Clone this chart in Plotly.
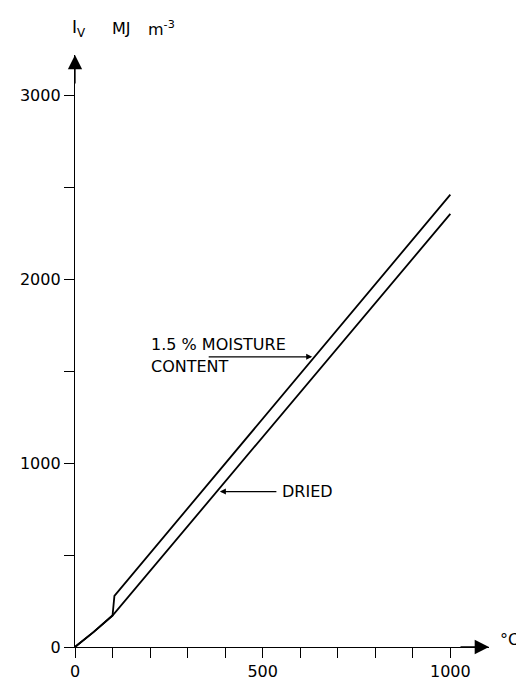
import plotly.graph_objects as go

# Data
temp_moist = [0, 50, 100, 105, 1000]
iv_moist = [0, 82, 171, 278, 2460]
temp_dried = [0, 50, 100, 1000]
iv_dried = [0, 82, 171, 2355]

x_tickvals = [0, 100, 200, 300, 400, 500, 600, 700, 800, 900, 1000]
x_ticktext = ["0", "", "", "", "", "500", "", "", "", "", "1000"]
y_tickvals = [0, 500, 1000, 1500, 2000, 2500, 3000]
y_ticktext = ["0", "", "1000", "", "2000", "", "3000"]

X_MAX = 1103
Y_MAX = 3219
FONT = "DejaVu Sans"

fig = go.Figure()
fig.add_trace(go.Scatter(x=temp_moist, y=iv_moist, mode="lines",
                         line=dict(color="black", width=1.8), showlegend=False))
fig.add_trace(go.Scatter(x=temp_dried, y=iv_dried, mode="lines",
                         line=dict(color="black", width=1.8), showlegend=False))

# the page body has an 8px default margin, so the figure is 8px smaller
fig.update_layout(
    width=516, height=685,
    margin=dict(l=64, r=35, t=47, b=36),
    paper_bgcolor="white", plot_bgcolor="white",
    font=dict(family=FONT, size=16, color="black"),
    xaxis=dict(range=[0, X_MAX], showgrid=False, zeroline=False,
               showline=True, linecolor="black", linewidth=1.3,
               ticks="outside", ticklen=10, tickwidth=1.3, tickcolor="black",
               tickvals=x_tickvals, ticktext=x_ticktext,
               tickfont=dict(family=FONT, size=16)),
    yaxis=dict(range=[0, Y_MAX], showgrid=False, zeroline=False,
               showline=True, linecolor="black", linewidth=1.3,
               ticks="outside", ticklen=10, tickwidth=1.3, tickcolor="black",
               tickvals=y_tickvals, ticktext=y_ticktext,
               tickfont=dict(family=FONT, size=16)),
)

# Axis arrowheads
fig.add_annotation(x=X_MAX, y=0, xref="x", yref="y", ax=-30, ay=0,
                   text="", showarrow=True, arrowhead=2, arrowsize=2.2,
                   arrowwidth=1.3, arrowcolor="black")
fig.add_annotation(x=0, y=Y_MAX, xref="x", yref="y", ax=0, ay=30,
                   text="", showarrow=True, arrowhead=2, arrowsize=2.2,
                   arrowwidth=1.3, arrowcolor="black")

# Axis labels (paper coordinates so they stay visible outside the plot area)
fig.add_annotation(x=1.077, y=0.012, xref="paper", yref="paper", text="°C",
                   showarrow=False, xanchor="right", yanchor="middle",
                   font=dict(family=FONT, size=16))
fig.add_annotation(x=-0.012, y=1.045, xref="paper", yref="paper",
                   text="I<sub>V</sub>",
                   showarrow=False, xanchor="left", yanchor="middle",
                   font=dict(family=FONT, size=17))
fig.add_annotation(x=0.084, y=1.045, xref="paper", yref="paper",
                   text="MJ",
                   showarrow=False, xanchor="left", yanchor="middle",
                   font=dict(family=FONT, size=16))
fig.add_annotation(x=0.172, y=1.045, xref="paper", yref="paper",
                   text="m<sup>-3</sup>",
                   showarrow=False, xanchor="left", yanchor="middle",
                   font=dict(family=FONT, size=16))

# Curve labels
fig.add_annotation(x=198, y=1647, xref="x", yref="y", text="1.5 % MOISTURE",
                   showarrow=False, xanchor="left", yanchor="middle",
                   font=dict(family=FONT, size=16))
fig.add_annotation(x=198, y=1524, xref="x", yref="y", text="CONTENT",
                   showarrow=False, xanchor="left", yanchor="middle",
                   font=dict(family=FONT, size=16))
fig.add_annotation(x=632, y=1578, xref="x", yref="y", ax=-105, ay=0,
                   text="", showarrow=True, arrowhead=2, arrowsize=1,
                   arrowwidth=1.2, arrowcolor="black")
fig.add_annotation(x=545, y=845, xref="x", yref="y", text="DRIED",
                   showarrow=False, xanchor="left", yanchor="middle",
                   font=dict(family=FONT, size=16))
fig.add_annotation(x=386, y=845, xref="x", yref="y", ax=58, ay=0,
                   text="", showarrow=True, arrowhead=2, arrowsize=1,
                   arrowwidth=1.2, arrowcolor="black")

fig.write_html("out.html")
